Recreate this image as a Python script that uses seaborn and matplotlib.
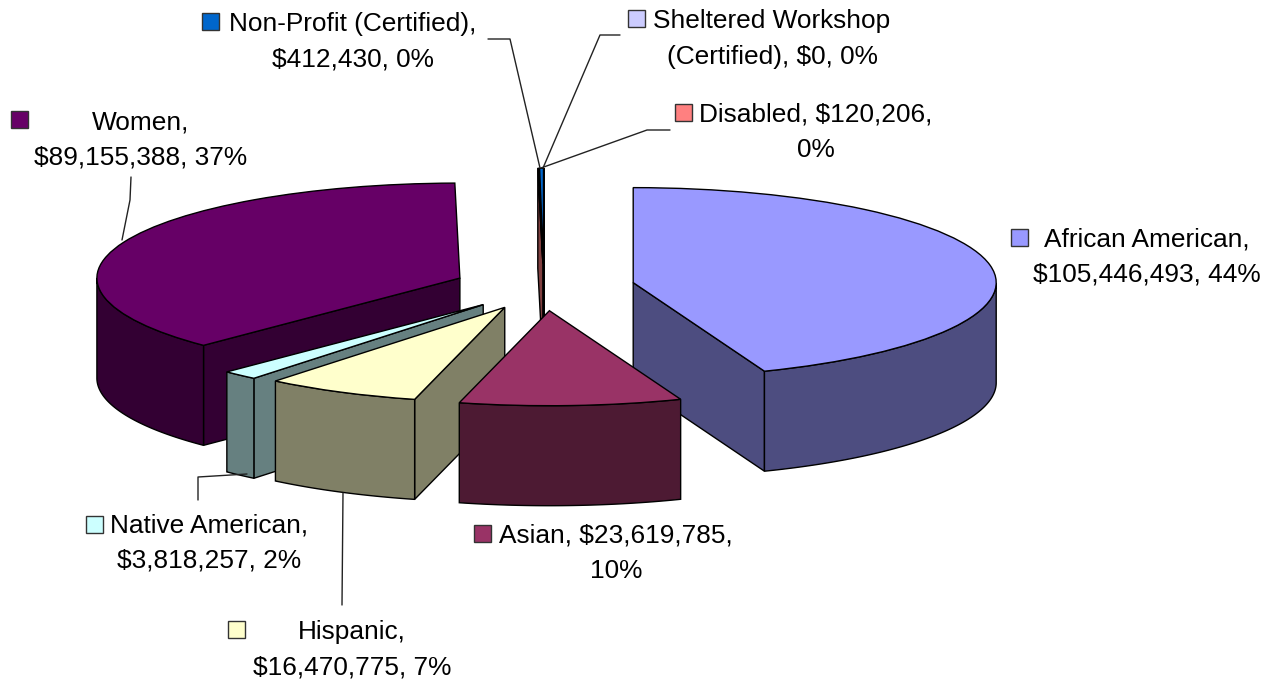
"""Exploded 3D style pie chart of spending by certification group."""

import matplotlib.pyplot as plt
from matplotlib.patches import Polygon, Rectangle
import numpy as np
import seaborn as sns

CATEGORIES = ['African American', 'Asian', 'Hispanic', 'Native American', 'Women',
              'Disabled', 'Non-Profit (Certified)', 'Sheltered Workshop (Certified)']
VALUES = [105446493, 23619785, 16470775, 3818257, 89155388, 120206, 412430, 0]
LABELS = ['African American,\n$105,446,493, 44%',
          'Asian, $23,619,785,\n10%',
          'Hispanic,\n$16,470,775, 7%',
          'Native American,\n$3,818,257, 2%',
          'Women,\n$89,155,388, 37%',
          'Disabled, $120,206,\n0%',
          'Non-Profit (Certified),\n$412,430, 0%',
          'Sheltered Workshop\n(Certified), $0, 0%']
COLORS = ['#9999FF', '#993366', '#FFFFCC', '#CCFFFF', '#660066',
          '#FF8080', '#0066CC', '#CCCCFF']

# layout in image pixels
WIDTH, HEIGHT = 1266, 683
CX, CY, RX, RY = 544, 287, 363, 95
DEPTH = 100 / RY
EXPLODE = [0.25, 0.25, 0.24, 0.25, 0.25, 0.25, 0.25, 0.25]
TEXT_POS = [(1147, 257), (616, 553), (352, 650), (209, 543), (141, 140),
            (816, 132), (353, 42), (772, 39)]
KEY_POS = [(1011, 229), (474, 525), (228, 621), (86, 516), (11, 111),
           (675, 104), (202, 13), (628, 10)]
LEADERS = [None, None,
           [(342, 605), (343, 493)],
           [(198, 500), (198, 477), (247, 474)],
           [(131, 177), (130, 200), (122, 240)],
           [(670, 130), (647, 130), (541, 168)],
           [(488, 39), (510, 39), (540, 168)],
           [(620, 35), (600, 35), (543, 168)]]
# painter's order, back slices first
Z_ORDER = {7: 1, 6: 2, 5: 3, 0: 5, 4: 6, 3: 7, 2: 8, 1: 9}

sns.set_theme(style='white')
plt.rcParams['font.family'] = ['Liberation Sans', 'DejaVu Sans']

palette = sns.color_palette(COLORS)

fig = plt.figure(figsize=(WIDTH / 100, HEIGHT / 100), dpi=100, facecolor='white')
ax = fig.add_axes([0, 0, 1, 1])
wedges, _ = ax.pie(VALUES, colors=palette, startangle=90, counterclock=False,
                   explode=EXPLODE,
                   wedgeprops={'edgecolor': 'black', 'linewidth': 1})
ax.set_aspect('auto')
ax.set_xlim(-CX / RX, (WIDTH - CX) / RX)
ax.set_ylim((CY - HEIGHT) / RY, CY / RY)


def add_wall(points, color, zorder):
    """Adds one darkened side face of a slice."""
    dark = tuple(c * 0.5 for c in color)
    ax.add_patch(Polygon(points, closed=True, facecolor=dark, edgecolor='black',
                         linewidth=1, zorder=zorder))


for i, wedge in enumerate(wedges):
    z = Z_ORDER[i]
    wedge.set_zorder(z + 0.5)
    x0, y0 = wedge.center
    color = palette[i]

    # radial faces that look towards the viewer
    for theta, visible in ((wedge.theta1, np.cos(np.radians(wedge.theta1)) > 0),
                           (wedge.theta2, np.cos(np.radians(wedge.theta2)) < 0)):
        if visible:
            px = x0 + wedge.r * np.cos(np.radians(theta))
            py = y0 + wedge.r * np.sin(np.radians(theta))
            add_wall([(x0, y0), (px, py), (px, py - DEPTH), (x0, y0 - DEPTH)], color, z)

    # rim along the front half of the arc
    thetas = np.linspace(wedge.theta1, wedge.theta2, 240)
    thetas = thetas[np.sin(np.radians(thetas)) <= 0]
    if len(thetas) > 1:
        arc_x = x0 + wedge.r * np.cos(np.radians(thetas))
        arc_y = y0 + wedge.r * np.sin(np.radians(thetas))
        rim = np.vstack([np.column_stack([arc_x, arc_y]),
                         np.column_stack([arc_x, arc_y - DEPTH])[::-1]])
        add_wall(rim, color, z + 0.2)

# the blue top sits over the wall of the disabled slice
wedges[6].set_zorder(4)

overlay = fig.add_axes([0, 0, 1, 1])
overlay.set_xlim(0, WIDTH)
overlay.set_ylim(HEIGHT, 0)
overlay.axis('off')

for i, label in enumerate(LABELS):
    overlay.text(*TEXT_POS[i], label, ha='center', va='center', fontsize=18.9,
                 color='black', linespacing=1.58)
    overlay.add_patch(Rectangle(KEY_POS[i], 17, 17, facecolor=palette[i],
                                edgecolor='#333333', linewidth=1))
    if LEADERS[i] is not None:
        xs, ys = zip(*LEADERS[i])
        overlay.plot(xs, ys, color='#222222', linewidth=1)

fig.savefig('out.png', dpi=100, facecolor='white')
